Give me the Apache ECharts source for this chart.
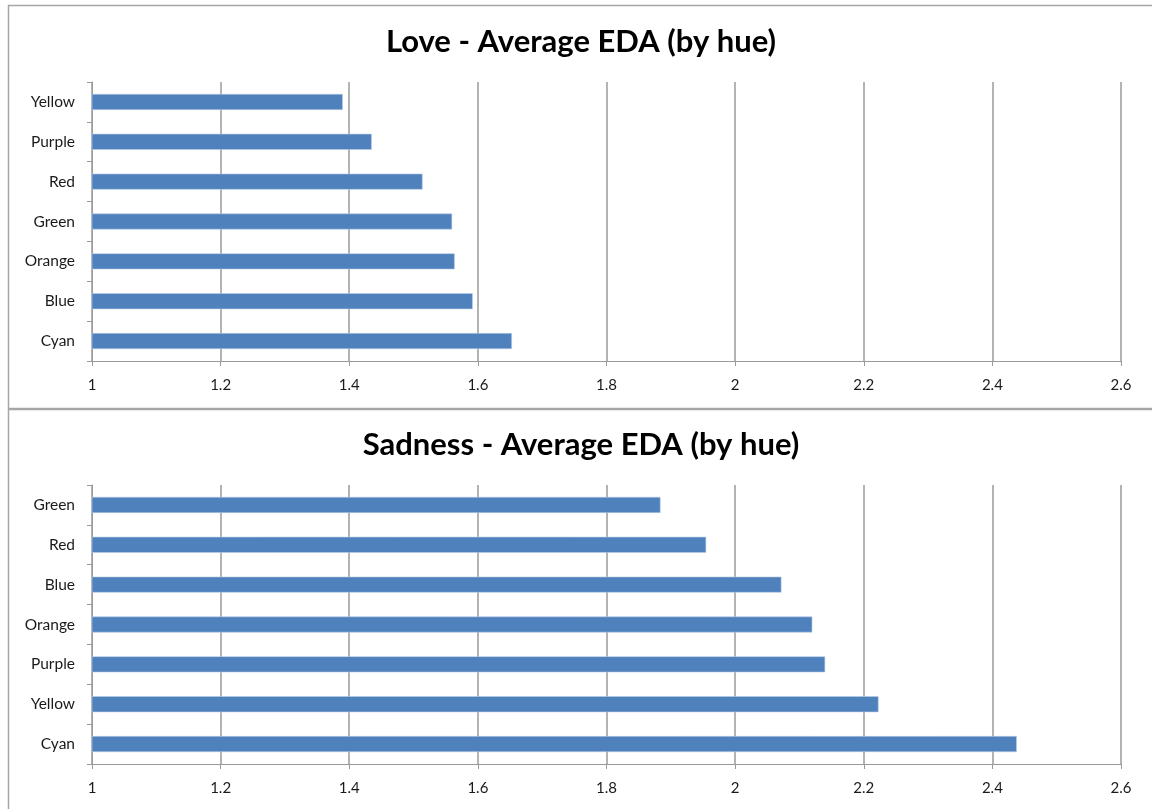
<!DOCTYPE html>
<html>
<head>
<meta charset="utf-8">
<script src="https://cdn.jsdelivr.net/npm/echarts@6/dist/echarts.min.js"></script>
<style>
  html, body { margin: 0; padding: 0; background: #fff; }
  #chart { width: 1152px; height: 809px; }
</style>
</head>
<body>
<div id="chart"></div>
<script>
// Average EDA per hue, listed top to bottom as shown on each panel
const loveHues = ['Yellow', 'Purple', 'Red', 'Green', 'Orange', 'Blue', 'Cyan'];
const loveValues = [1.390, 1.435, 1.514, 1.560, 1.564, 1.592, 1.653];

const sadHues = ['Green', 'Red', 'Blue', 'Orange', 'Purple', 'Yellow', 'Cyan'];
const sadValues = [1.884, 1.955, 2.072, 2.120, 2.140, 2.223, 2.438];

const titles = ['Love - Average EDA (by hue)', 'Sadness - Average EDA (by hue)'];
const xMin = 1, xMax = 2.6, xStep = 0.2;

const FONT = 'Lato, "Open Sans", sans-serif';
const BAR = '#4F81BD';
const GRID_LINE = '#9a9a9a';

const chart = echarts.init(document.getElementById('chart'));

function xAxis(gridIndex) {
  return {
    type: 'value', gridIndex, min: xMin, max: xMax, interval: xStep,
    axisLine: { show: true, lineStyle: { color: GRID_LINE } },
    axisTick: { show: true, length: 5, lineStyle: { color: GRID_LINE } },
    axisLabel: {
      color: '#1a1a1a', fontFamily: FONT, fontSize: 15, margin: 17,
      formatter: v => String(+v.toFixed(1))
    },
    splitLine: { show: true, lineStyle: { color: GRID_LINE, width: 1.5 } }
  };
}

function yAxis(gridIndex, cats) {
  return {
    type: 'category', gridIndex, data: cats, inverse: true,
    axisLine: { show: true, lineStyle: { color: GRID_LINE } },
    axisTick: { show: true, length: 5, lineStyle: { color: GRID_LINE } },
    axisLabel: { color: '#1a1a1a', fontFamily: FONT, fontSize: 15.5, margin: 17 }
  };
}

function bars(idx, values) {
  return {
    type: 'bar', xAxisIndex: idx, yAxisIndex: idx, data: values,
    barWidth: 16,
    itemStyle: { color: BAR, borderColor: '#b9cde5', borderWidth: 0.6 },
    silent: true
  };
}

chart.setOption({
  animation: false,
  backgroundColor: '#fff',
  title: [
    { text: titles[0], left: 576, top: 21, textAlign: 'center',
      textStyle: { fontFamily: FONT, fontSize: 31, fontWeight: 'bold', color: '#000' } },
    { text: titles[1], left: 576, top: 424, textAlign: 'center',
      textStyle: { fontFamily: FONT, fontSize: 31, fontWeight: 'bold', color: '#000' } }
  ],
  grid: [
    { left: 92, right: 31, top: 82, height: 279 },
    { left: 92, right: 31, top: 485, height: 279 }
  ],
  xAxis: [xAxis(0), xAxis(1)],
  yAxis: [yAxis(0, loveHues), yAxis(1, sadHues)],
  series: [bars(0, loveValues), bars(1, sadValues)],
  graphic: [
    { type: 'rect', shape: { x: 8.5, y: 5.5, width: 1160, height: 403 },
      style: { fill: 'none', stroke: '#a6a6a6', lineWidth: 1.5 }, z: -1 },
    { type: 'rect', shape: { x: 8.5, y: 409.5, width: 1160, height: 420 },
      style: { fill: 'none', stroke: '#a6a6a6', lineWidth: 1.5 }, z: -1 }
  ]
});
</script>
</body>
</html>
